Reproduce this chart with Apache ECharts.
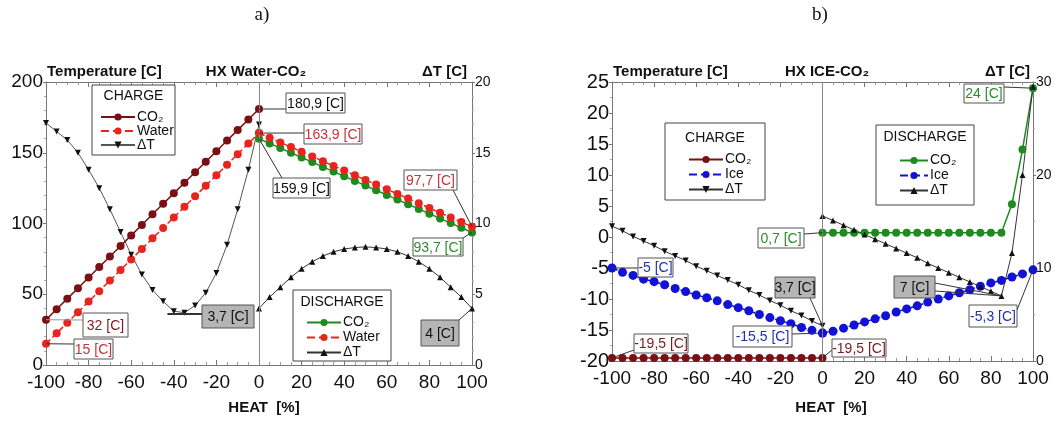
<!DOCTYPE html>
<html lang="en">
<head>
    <meta charset="UTF-8">
    <title>HX Water-CO2 / HX ICE-CO2</title>
    <script src="https://cdn.jsdelivr.net/npm/echarts@6/dist/echarts.min.js"></script>
    <style>
        html, body { margin: 0; padding: 0; background: #fff; }
        #main { width: 1055px; height: 423px; }
    </style>
</head>
<body>
    <div id="main"></div>
    <script>
        // x values (HEAT %)
        var heatCharge = [-100, -95, -90, -85, -80, -75, -70, -65, -60, -55, -50, -45, -40, -35, -30, -25, -20, -15, -10, -5, 0];
        var heatDischarge = [0, 5, 10, 15, 20, 25, 30, 35, 40, 45, 50, 55, 60, 65, 70, 75, 80, 85, 90, 95, 100];

        // a) HX Water-CO2
        var waterChargeCO2 = [32, 39.4, 46.9, 54.3, 61.8, 69.2, 76.7, 84.1, 91.6, 99.0, 106.5, 113.9, 121.3, 128.8, 136.2, 143.7, 151.1, 158.6, 166.0, 173.5, 180.9];
        var waterChargeWater = [15, 22.4, 29.9, 37.3, 44.8, 52.2, 59.7, 67.1, 74.6, 82.0, 89.5, 96.9, 104.3, 111.8, 119.2, 126.7, 134.1, 141.6, 149.0, 156.5, 163.9];
        var waterChargeDT = [17.1, 16.5, 15.9, 15.0, 13.8, 12.5, 11.0, 9.4, 7.8, 6.4, 5.3, 4.5, 3.8, 3.7, 4.2, 5.1, 6.5, 8.5, 11.0, 13.8, 17.0];
        var waterDischargeCO2 = [159.9, 156.6, 153.3, 150.0, 146.7, 143.4, 140.0, 136.7, 133.4, 130.1, 126.8, 123.5, 120.2, 116.9, 113.6, 110.3, 106.9, 103.6, 100.3, 97.0, 93.7];
        var waterDischargeWater = [163.9, 160.6, 157.3, 154.0, 150.7, 147.4, 144.0, 140.7, 137.4, 134.1, 130.8, 127.5, 124.2, 120.9, 117.6, 114.3, 110.9, 107.6, 104.3, 101.0, 97.7];
        var waterDischargeDT = [4.0, 4.8, 5.5, 6.2, 6.8, 7.3, 7.7, 8.0, 8.2, 8.3, 8.35, 8.3, 8.2, 8.0, 7.7, 7.3, 6.8, 6.2, 5.5, 4.8, 4.0];

        // b) HX ICE-CO2
        var iceChargeCO2 = [-19.5, -19.5, -19.5, -19.5, -19.5, -19.5, -19.5, -19.5, -19.5, -19.5, -19.5, -19.5, -19.5, -19.5, -19.5, -19.5, -19.5, -19.5, -19.5, -19.5, -19.5];
        var iceChargeIce = [-5, -5.7, -6.2, -6.8, -7.2, -7.7, -8.3, -8.8, -9.35, -9.8, -10.3, -10.9, -11.4, -11.9, -12.5, -13.0, -13.5, -14.0, -14.6, -15.05, -15.5];
        var iceChargeDT = [14.5, 14.0, 13.4, 12.9, 12.4, 11.8, 11.3, 10.8, 10.2, 9.7, 9.2, 8.7, 8.2, 7.6, 7.1, 6.5, 6.0, 5.4, 4.9, 4.3, 3.8];
        var iceDischargeCO2 = [0.7, 0.7, 0.7, 0.7, 0.7, 0.7, 0.7, 0.7, 0.7, 0.7, 0.7, 0.7, 0.7, 0.7, 0.7, 0.7, 0.7, 0.7, 5.3, 14.1, 24];
        var iceDischargeIce = [-15.5, -15.2, -14.7, -14.2, -13.7, -13.2, -12.7, -12.1, -11.6, -11.1, -10.5, -10.0, -9.5, -9.0, -8.5, -7.95, -7.4, -7.0, -6.45, -5.95, -5.3];
        var iceDischargeDT = [15.6, 15.1, 14.6, 14.1, 13.6, 13.1, 12.6, 12.1, 11.6, 11.1, 10.5, 10.0, 9.5, 9.0, 8.5, 8.0, 7.5, 7.0, 11.6, 20.0, 29.5];

        var legendLabels = {
            wc_co2: 'CO₂', wc_water: 'Water', wc_dt: 'ΔT',
            wd_co2: 'CO₂', wd_water: 'Water', wd_dt: 'ΔT',
            ic_co2: 'CO₂', ic_ice: 'Ice', ic_dt: 'ΔT',
            id_co2: 'CO₂', id_ice: 'Ice', id_dt: 'ΔT'
        };

        var FONT = '"Liberation Sans", Arial, sans-serif';
        var DARKRED = '#7a0f14', RED = '#e8241f', GREEN = '#1d8c1d', BLUE = '#1212d6', BLACK = '#111';
        var TRI_DOWN = 'path://M0,0L10,0L5,10Z';

        var chart = echarts.init(document.getElementById('main'));

        function pairs(xs, ys) {
            return xs.map(function (x, i) { return [x, ys[i]]; });
        }

        function xAx(grid, pos, labels) {
            return {
                type: 'value', gridIndex: grid, position: pos, min: -100, max: 100, interval: 20,
                axisLine: { show: true, onZero: false, lineStyle: { color: '#777', width: 1 } },
                axisTick: { show: true, inside: true, length: 5, lineStyle: { color: '#777' } },
                minorTick: { show: true, splitNumber: 4, length: 3, lineStyle: { color: '#999' } },
                splitLine: { show: false }, minorSplitLine: { show: false },
                axisLabel: { show: labels, color: BLACK, fontSize: 19, fontFamily: FONT, margin: 8 }
            };
        }

        function yAx(grid, pos, min, max, interval, minor, size, formatter) {
            return {
                type: 'value', gridIndex: grid, position: pos, min: min, max: max, interval: interval,
                axisLine: { show: true, onZero: false, lineStyle: { color: '#777', width: 1 } },
                axisTick: { show: true, inside: false, length: 3, lineStyle: { color: '#777' } },
                minorTick: { show: true, splitNumber: minor, length: 2, lineStyle: { color: '#aaa' } },
                splitLine: { show: false }, minorSplitLine: { show: false },
                axisLabel: { color: BLACK, fontSize: size, fontFamily: FONT, margin: 3, formatter: formatter }
            };
        }

        function line(name, xi, yi, data, color, o) {
            o = o || {};
            return {
                name: name, type: 'line', xAxisIndex: xi, yAxisIndex: yi, data: data,
                symbol: o.symbol || 'circle', symbolSize: o.size || 8,
                itemStyle: { color: color },
                lineStyle: { color: o.lineColor || color, width: o.width || 1.5, type: o.dash || 'solid' },
                emphasis: { disabled: true }, z: o.z || 2,
                markLine: o.markLine
            };
        }

        var zeroLine = {
            silent: true, symbol: 'none', label: { show: false },
            lineStyle: { color: '#888', type: 'solid', width: 1 },
            data: [{ xAxis: 0 }]
        };

        function legend(names, left, top, iconW, lineH) {
            return {
                data: names, orient: 'vertical', left: left, top: top, padding: 0,
                itemWidth: iconW, itemHeight: 9, itemGap: 0, selectedMode: false,
                formatter: function (n) { return legendLabels[n]; },
                textStyle: { fontSize: 14, fontFamily: FONT, color: BLACK, lineHeight: lineH, padding: [0, 0, 0, -3] }
            };
        }

        option = {
            animation: false,
            grid: [
                { left: 46, top: 82, width: 426, height: 283, outerBoundsMode: 'none' },
                { left: 612, top: 82, width: 421, height: 279, outerBoundsMode: 'none' }
            ],
            xAxis: [xAx(0, 'bottom', true), xAx(0, 'top', false), xAx(1, 'bottom', true), xAx(1, 'top', false)],
            yAxis: [
                yAx(0, 'left', 0, 200, 50, 5, 19),
                yAx(0, 'right', 0, 20, 5, 5, 14),
                yAx(1, 'left', -20, 25, 5, 2, 20),
                yAx(1, 'right', 0, 30, 10, 2, 14)
            ],
            legend: [
                legend(['wc_co2', 'wc_water', 'wc_dt'], 100, 110, 34, 12),
                legend(['wd_co2', 'wd_water', 'wd_dt'], 306, 315, 34, 15),
                legend(['ic_co2', 'ic_ice', 'ic_dt'], 688, 152, 34, 15),
                legend(['id_co2', 'id_ice', 'id_dt'], 899, 153, 28, 15)
            ],
            series: [
                line('wc_co2', 0, 0, pairs(heatCharge, waterChargeCO2), DARKRED, { markLine: zeroLine, z: 3 }),
                line('wc_water', 0, 0, pairs(heatCharge, waterChargeWater), RED, { dash: 'dashed' }),
                line('wc_dt', 0, 1, pairs(heatCharge, waterChargeDT), BLACK, { symbol: TRI_DOWN, size: 6, lineColor: '#555', width: 1 }),
                line('wd_co2', 0, 0, pairs(heatDischarge, waterDischargeCO2), GREEN, {}),
                line('wd_water', 0, 0, pairs(heatDischarge, waterDischargeWater), RED, { dash: 'dashed' }),
                line('wd_dt', 0, 1, pairs(heatDischarge, waterDischargeDT), BLACK, { symbol: 'triangle', size: 6, lineColor: '#333', width: 1 }),

                line('ic_co2', 2, 2, pairs(heatCharge, iceChargeCO2), DARKRED, { markLine: zeroLine }),
                line('ic_ice', 2, 2, pairs(heatCharge, iceChargeIce), BLUE, { dash: 'dashed', size: 9 }),
                line('ic_dt', 2, 3, pairs(heatCharge, iceChargeDT), BLACK, { symbol: TRI_DOWN, size: 6, lineColor: '#333', width: 1 }),
                line('id_co2', 2, 2, pairs(heatDischarge, iceDischargeCO2), GREEN, {}),
                line('id_ice', 2, 2, pairs(heatDischarge, iceDischargeIce), BLUE, { dash: 'dashed', size: 9 }),
                line('id_dt', 2, 3, pairs(heatDischarge, iceDischargeDT), BLACK, { symbol: 'triangle', size: 6, lineColor: '#333', width: 1 })
            ]
        };
        chart.setOption(option);

        // annotation boxes with leader lines to the data points
        var GRAY = '#b5b5b5';
        var notes = [
            { t: '180,9 [C]', c: BLACK, box: [286, 93, 59, 20], ax: [0, 0], pt: [0, 180.9], to: [[286, 109]] },
            { t: '163,9 [C]', c: '#c8323c', box: [304, 124, 58, 20], ax: [0, 0], pt: [0, 163.9], to: [[304, 133]] },
            { t: '159,9 [C]', c: BLACK, box: [273, 178, 57, 20], ax: [0, 0], pt: [0, 159.9], to: [[282, 178]] },
            { t: '97,7 [C]', c: '#c8323c', box: [404, 170, 53, 20], ax: [0, 0], pt: [100, 97.7], to: [[453, 190]] },
            { t: '93,7 [C]', c: '#2e8b2e', box: [413, 238, 50, 18], ax: [0, 0], pt: [100, 93.7], to: [[463, 238]] },
            { t: '32 [C]', c: '#7a1a22', box: [83, 313, 45, 24], ax: [0, 0], pt: [-100, 32], to: [[83, 320]], lc: '#999' },
            { t: '15 [C]', c: '#c8323c', box: [74, 339, 39, 20], ax: [0, 0], pt: [-100, 15], to: [[74, 344]] },
            { t: '3,7 [C]', c: BLACK, fill: GRAY, box: [202, 305, 52, 23], ax: [0, 1], pt: [-43, 3.6], to: [[202, 314]], lw: 2 },
            { t: '4 [C]', c: BLACK, fill: GRAY, box: [421, 320, 38, 26], ax: [0, 1], pt: [100, 4], to: [[459, 320]] },

            { t: '24 [C]', c: '#2e8b2e', box: [964, 84, 40, 19], ax: [2, 2], pt: [100, 24], to: [[1004, 87]] },
            { t: '0,7 [C]', c: '#2e8b2e', box: [758, 228, 46, 20], ax: [2, 2], pt: [0, 0.7], to: [[804, 234]] },
            { t: '-5 [C]', c: '#2233aa', box: [638, 258, 35, 19], ax: [2, 2], pt: [-100, -5], to: [[638, 268]] },
            { t: '3,7 [C]', c: BLACK, fill: GRAY, box: [775, 277, 40, 21], ax: [2, 3], pt: [0, 3.8], to: [[810, 298]] },
            { t: '-15,5 [C]', c: '#2233aa', box: [733, 326, 59, 21], ax: [2, 2], pt: [0, -15.5], to: [[792, 334]] },
            { t: '-19,5 [C]', c: '#7a1a22', box: [634, 334, 54, 19], ax: [2, 2], pt: [-100, -19.5], to: [[634, 350]] },
            { t: '-19,5 [C]', c: '#7a1a22', box: [832, 339, 54, 18], ax: [2, 2], pt: [0, -19.5], to: [[832, 350]] },
            { t: '7 [C]', c: BLACK, fill: GRAY, box: [894, 276, 41, 22], ax: [2, 3], pt: [85, 7], to: [[935, 283], [935, 291]] },
            { t: '-5,3 [C]', c: '#2233aa', box: [969, 305, 48, 22], ax: [2, 2], pt: [100, -5.3], to: [[1017, 310]] }
        ];

        var g = [];
        function txt(s, x, y, font, color, align) {
            g.push({
                type: 'text', x: x, y: y, z: 100,
                style: { text: s, font: font, fill: color, align: align, verticalAlign: 'middle', textAlign: align, textVerticalAlign: 'middle' }
            });
        }

        notes.forEach(function (n) {
            var p = chart.convertToPixel({ xAxisIndex: n.ax[0], yAxisIndex: n.ax[1] }, n.pt);
            n.to.forEach(function (q) {
                g.push({
                    type: 'line', z: 99, shape: { x1: p[0], y1: p[1], x2: q[0], y2: q[1] },
                    style: { stroke: n.lc || '#333', lineWidth: n.lw || 1 }
                });
            });
            g.push({
                type: 'rect', z: 100, shape: { x: n.box[0], y: n.box[1], width: n.box[2], height: n.box[3] },
                style: { fill: n.fill || '#fff', stroke: '#555', lineWidth: 1 }
            });
            txt(n.t, n.box[0] + n.box[2] / 2, n.box[1] + n.box[3] / 2 + 1, '14px ' + FONT, n.c, 'center');
        });

        // legend frames and titles
        var boxes = [
            { t: 'CHARGE', r: [92, 85, 83, 70], ty: 96 },
            { t: 'DISCHARGE', r: [293, 290, 98, 71], ty: 302 },
            { t: 'CHARGE', r: [665, 123, 100, 77], ty: 138 },
            { t: 'DISCHARGE', r: [876, 125, 98, 80], ty: 137 }
        ];
        boxes.forEach(function (b) {
            g.push({
                type: 'rect', z: 3, shape: { x: b.r[0], y: b.r[1], width: b.r[2], height: b.r[3] },
                style: { fill: '#fff', stroke: '#444', lineWidth: 1 }
            });
            txt(b.t, b.r[0] + b.r[2] / 2, b.ty, '14px ' + FONT, BLACK, 'center');
        });

        // headers
        var bold = 'bold 15px ' + FONT;
        txt('a)', 262, 15, '19px "Liberation Serif", "Times New Roman", serif', BLACK, 'center');
        txt('b)', 820, 15, '19px "Liberation Serif", "Times New Roman", serif', BLACK, 'center');
        txt('Temperature [C]', 47, 72, bold, BLACK, 'left');
        txt('HX Water-CO₂', 256, 72, bold, BLACK, 'center');
        txt('ΔT [C]', 467, 72, bold, BLACK, 'right');
        txt('Temperature [C]', 613, 72, bold, BLACK, 'left');
        txt('HX ICE-CO₂', 827, 72, bold, BLACK, 'center');
        txt('ΔT [C]', 1030, 72, bold, BLACK, 'right');
        txt('HEAT  [%]', 264, 408, bold, BLACK, 'center');
        txt('HEAT  [%]', 831, 408, bold, BLACK, 'center');

        chart.setOption({ graphic: { elements: g } });
    </script>
</body>
</html>
